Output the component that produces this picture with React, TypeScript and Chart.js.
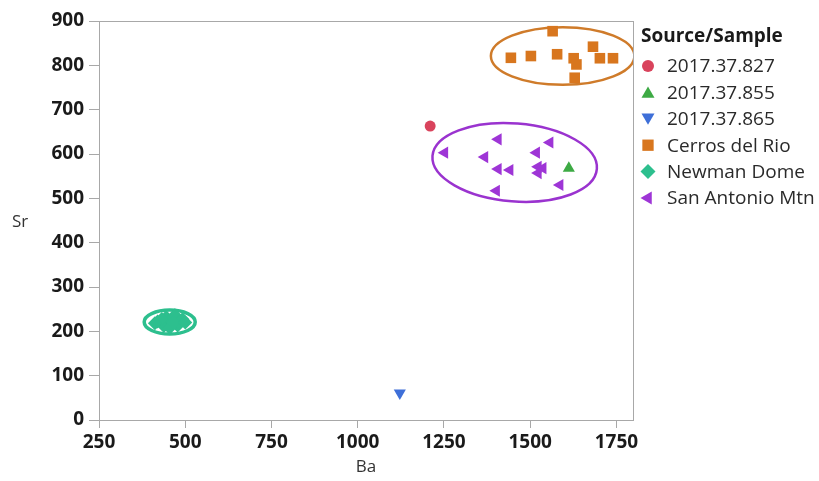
import React, { useEffect, useRef } from "react";
import { Chart, registerables } from "chart.js";

Chart.register(...registerables);

// ---------- data ----------
const seriesNames = ["2017.37.827", "2017.37.855", "2017.37.865", "Cerros del Rio", "Newman Dome", "San Antonio Mtn"];

const s827Ba = [1210];
const s827Sr = [663];
const s855Ba = [1612];
const s855Sr = [568];
const s865Ba = [1122];
const s865Sr = [61];
const cerrosBa = [1565, 1444, 1502, 1578, 1626, 1634, 1682, 1702, 1740, 1629];
const cerrosSr = [877, 817, 821, 825, 816, 802, 842, 816, 816, 772];
const newmanBa = [420, 438, 445, 458, 470, 478, 492, 455, 432, 466, 500, 412];
const newmanSr = [222, 212, 232, 225, 236, 213, 227, 208, 228, 220, 220, 218];
const sanAntonioBa = [1252, 1407, 1557, 1368, 1518, 1407, 1441, 1523, 1537, 1523, 1586, 1402];
const sanAntonioSr = [603, 633, 626, 593, 603, 566, 564, 571, 568, 557, 530, 517];

const xTicks = [250, 500, 750, 1000, 1250, 1500, 1750];
const yTicks = [0, 100, 200, 300, 400, 500, 600, 700, 800, 900];

// density ellipses (data units)
const ellipseCenterBa = [1594, 455, 1455];
const ellipseCenterSr = [821, 221, 581];
const ellipseSemiBa = [208, 74, 239];
const ellipseSemiSr = [65, 27, 88];
const ellipseTiltDeg = [0, 0, 4.5];

// ---------- styles ----------
const colors = ["#D9435C", "#3DAA44", "#3E6FD8", "#D8761E", "#2DBF8E", "#9E35D6"];
const ellipseColors = ["#CF7B2A", "#2DBF8E", "#9A33CF"];
const ellipseWidths = [2.5, 3.5, 2.5];
const styles: any[] = ["circle", "triangle", "triangle", "rect", "rectRot", "triangle"];
const rotations = [0, 0, 180, 0, 0, 270];
const radii = [5.5, 7, 7, 7.5, 7, 7];
const FONT = "'Open Sans', 'DejaVu Sans', sans-serif";

function pts(xs: number[], ys: number[]) {
  return xs.map((x, i) => ({ x, y: ys[i] }));
}

function drawMarker(ctx: CanvasRenderingContext2D, style: string, rot: number, x: number, y: number, r: number) {
  ctx.save();
  ctx.translate(x, y);
  ctx.rotate((rot * Math.PI) / 180);
  ctx.beginPath();
  if (style === "circle") {
    ctx.arc(0, 0, r, 0, Math.PI * 2);
  } else if (style === "triangle") {
    ctx.moveTo(0, -r);
    ctx.lineTo(r * Math.sin((2 * Math.PI) / 3), -r * Math.cos((2 * Math.PI) / 3));
    ctx.lineTo(-r * Math.sin((2 * Math.PI) / 3), -r * Math.cos((2 * Math.PI) / 3));
    ctx.closePath();
  } else if (style === "rect") {
    const s = r * Math.SQRT1_2;
    ctx.rect(-s, -s, 2 * s, 2 * s);
  } else if (style === "rectRot") {
    ctx.moveTo(0, -r);
    ctx.lineTo(r, 0);
    ctx.lineTo(0, r);
    ctx.lineTo(-r, 0);
    ctx.closePath();
  }
  ctx.fill();
  ctx.restore();
}

const ellipsePlugin = {
  id: "ellipses",
  beforeDatasetsDraw(chart: any) {
    const { ctx, chartArea, scales } = chart;
    const xs = scales.x;
    const ys = scales.y;
    ctx.save();
    ctx.beginPath();
    ctx.rect(chartArea.left, chartArea.top, chartArea.right - chartArea.left, chartArea.bottom - chartArea.top);
    ctx.clip();
    for (let i = 0; i < ellipseCenterBa.length; i++) {
      const cx = xs.getPixelForValue(ellipseCenterBa[i]);
      const cy = ys.getPixelForValue(ellipseCenterSr[i]);
      const rx = Math.abs(xs.getPixelForValue(ellipseCenterBa[i] + ellipseSemiBa[i]) - cx);
      const ry = Math.abs(ys.getPixelForValue(ellipseCenterSr[i] + ellipseSemiSr[i]) - cy);
      ctx.beginPath();
      ctx.ellipse(cx, cy, rx, ry, (ellipseTiltDeg[i] * Math.PI) / 180, 0, Math.PI * 2);
      ctx.strokeStyle = ellipseColors[i];
      ctx.lineWidth = ellipseWidths[i];
      ctx.stroke();
    }
    ctx.restore();
  },
};

const decorPlugin = {
  id: "decor",
  afterDraw(chart: any) {
    const { ctx, chartArea } = chart;
    ctx.save();
    // frame
    ctx.strokeStyle = "#A8A8A8";
    ctx.lineWidth = 1;
    ctx.strokeRect(chartArea.left + 0.5, chartArea.top + 0.5, chartArea.right - chartArea.left, chartArea.bottom - chartArea.top);
    // axis titles
    ctx.fillStyle = "#333333";
    ctx.font = `17px ${FONT}`;
    ctx.textBaseline = "middle";
    ctx.textAlign = "left";
    ctx.fillText("Sr", 12, (chartArea.top + chartArea.bottom) / 2 + 2);
    ctx.textAlign = "center";
    ctx.fillText("Ba", (chartArea.left + chartArea.right) / 2, 467);
    // legend
    const lx = chartArea.right + 8;
    ctx.textAlign = "left";
    ctx.fillStyle = "#1a1a1a";
    ctx.font = `bold 19px ${FONT}`;
    ctx.fillText("Source/Sample", lx, 37);
    ctx.font = `19px ${FONT}`;
    for (let i = 0; i < seriesNames.length; i++) {
      const y = 66 + i * 26.4;
      ctx.fillStyle = colors[i];
      drawMarker(ctx, styles[i], rotations[i], lx + 7, y + (styles[i] === "triangle" && rotations[i] === 0 ? 1.5 : rotations[i] === 180 ? -1.5 : 0), radii[i] + 0.5);
      ctx.fillStyle = "#2a2a2a";
      ctx.fillText(seriesNames[i], lx + 26, y + 1);
    }
    ctx.restore();
  },
};

export default function App() {
  const ref = useRef<HTMLCanvasElement>(null);
  useEffect(() => {
    if (!ref.current) return;
    const dataSets = [
      pts(s827Ba, s827Sr),
      pts(s855Ba, s855Sr),
      pts(s865Ba, s865Sr),
      pts(cerrosBa, cerrosSr),
      pts(newmanBa, newmanSr),
      pts(sanAntonioBa, sanAntonioSr),
    ];
    const chart = new Chart(ref.current, {
      type: "scatter",
      data: {
        datasets: dataSets.map((d, i) => ({
          label: seriesNames[i],
          data: d,
          pointStyle: styles[i],
          rotation: rotations[i],
          pointRadius: radii[i],
          pointBackgroundColor: colors[i],
          pointBorderColor: colors[i],
          pointBorderWidth: 0,
          showLine: false,
        })),
      },
      options: {
        animation: false,
        responsive: false,
        layout: { padding: { left: 0, top: 21, right: 186, bottom: 0 } },
        plugins: { legend: { display: false }, tooltip: { enabled: false } },
        scales: {
          x: {
            type: "linear",
            min: 250,
            max: 1798,
            afterBuildTicks: (s: any) => {
              s.ticks = xTicks.map((v) => ({ value: v }));
            },
            afterFit: (s: any) => {
              s.height = 61;
            },
            grid: { display: true, drawOnChartArea: false, drawTicks: true, tickLength: 8, color: "#A8A8A8" },
            border: { display: true, color: "#A8A8A8" },
            ticks: {
              color: "#1a1a1a",
              padding: 3,
              maxRotation: 0,
              font: { family: FONT, size: 19, weight: "bold" },
              callback: (v: any) => String(v),
            },
          },
          y: {
            type: "linear",
            min: 0,
            max: 900,
            afterBuildTicks: (s: any) => {
              s.ticks = yTicks.map((v) => ({ value: v }));
            },
            afterFit: (s: any) => {
              s.width = 99;
            },
            grid: { display: true, drawOnChartArea: false, drawTicks: true, tickLength: 10, color: "#A8A8A8" },
            border: { display: true, color: "#A8A8A8" },
            ticks: {
              color: "#1a1a1a",
              padding: 5,
              font: { family: FONT, size: 19, weight: "bold" },
              callback: (v: any) => String(v),
            },
          },
        },
      } as any,
      plugins: [ellipsePlugin, decorPlugin],
    });
    return () => chart.destroy();
  }, []);
  return (
    <div style={{ position: "absolute", left: 0, top: 0, width: 819, height: 481, background: "#fff" }}>
      <canvas ref={ref} width={819} height={481} style={{ display: "block" }} />
    </div>
  );
}
